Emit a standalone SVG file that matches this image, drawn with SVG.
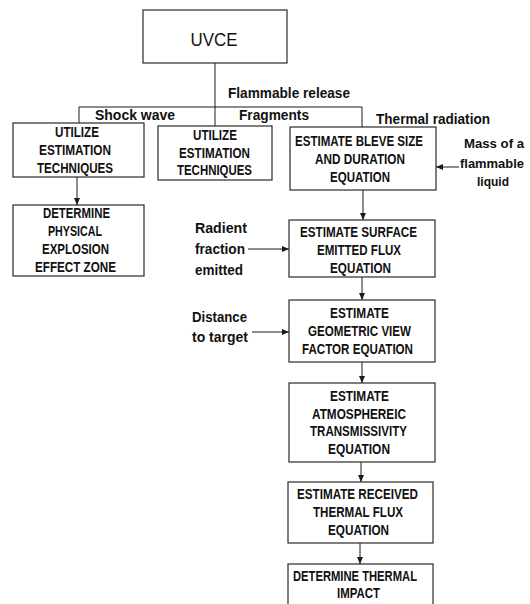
<svg xmlns="http://www.w3.org/2000/svg" width="530" height="604" viewBox="0 0 530 604">
<defs>
<marker id="ah" markerWidth="7" markerHeight="6" refX="7" refY="3" orient="auto" markerUnits="userSpaceOnUse">
<path d="M0,0 L7,3 L0,6 Z" fill="#1a1a1a"/>
</marker>
<style>
.box{fill:#fff;stroke:#2a2a2a;stroke-width:1.2}
.bt{font-family:"Liberation Sans",Arial,sans-serif;font-weight:bold;font-size:15px;fill:#111;text-anchor:middle}
.lb{font-family:"Liberation Sans",Arial,sans-serif;font-weight:bold;font-size:15px;fill:#111}
.sm{font-size:13.5px}
.c{stroke:#1a1a1a;stroke-width:1;fill:none}
.ca{stroke:#1a1a1a;stroke-width:1;fill:none;marker-end:url(#ah)}
</style>
</defs>
<rect width="530" height="604" fill="#fff"/>

<g id="connectors">
<line class="c" x1="215" y1="63" x2="215" y2="126"/>
<line class="c" x1="79" y1="107" x2="362" y2="107"/>
<line class="c" x1="79" y1="107" x2="79" y2="123"/>
<line class="c" x1="362" y1="107" x2="362" y2="127"/>
<line class="ca" x1="77" y1="177" x2="77" y2="205"/>
<line class="ca" x1="363" y1="190" x2="363" y2="220"/>
<line class="ca" x1="362" y1="277" x2="362" y2="300"/>
<line class="ca" x1="362" y1="362" x2="362" y2="383"/>
<line class="ca" x1="361" y1="462" x2="361" y2="482"/>
<line class="ca" x1="360" y1="543" x2="360" y2="564"/>
<line class="ca" x1="459" y1="167" x2="436" y2="167"/>
<line class="ca" x1="248" y1="249" x2="289" y2="249"/>
<line class="ca" x1="252" y1="332" x2="289" y2="332"/>
</g>

<g id="labels">
<text class="lb" x="228" y="98" textLength="122" lengthAdjust="spacingAndGlyphs">Flammable release</text>
<text class="lb" x="95" y="120" textLength="80" lengthAdjust="spacingAndGlyphs">Shock wave</text>
<text class="lb" x="239" y="120" textLength="70" lengthAdjust="spacingAndGlyphs">Fragments</text>
<text class="lb" x="376" y="124" textLength="114" lengthAdjust="spacingAndGlyphs">Thermal radiation</text>
<text class="lb sm" x="464" y="148" textLength="60" lengthAdjust="spacingAndGlyphs">Mass of a</text>
<text class="lb sm" x="460" y="168" textLength="64" lengthAdjust="spacingAndGlyphs">flammable</text>
<text class="lb sm" x="477" y="186" textLength="32" lengthAdjust="spacingAndGlyphs">liquid</text>
<text class="lb" x="195" y="233" textLength="52" lengthAdjust="spacingAndGlyphs">Radient</text>
<text class="lb" x="195" y="254" textLength="50" lengthAdjust="spacingAndGlyphs">fraction</text>
<text class="lb" x="195" y="275" textLength="48" lengthAdjust="spacingAndGlyphs">emitted</text>
<text class="lb" x="192" y="322" textLength="55" lengthAdjust="spacingAndGlyphs">Distance</text>
<text class="lb" x="192" y="342" textLength="56" lengthAdjust="spacingAndGlyphs">to target</text>
</g>

<g id="uvce">
<rect class="box" x="143" y="10" width="144" height="53"/>
<text x="214" y="46" font-family="Liberation Sans, Arial, sans-serif" font-size="18" fill="#111" text-anchor="middle" textLength="47" lengthAdjust="spacingAndGlyphs">UVCE</text>
</g>

<g id="utilize-left">
<rect class="box" x="13" y="123" width="131" height="54"/>
<text class="bt" x="77" y="137" textLength="44" lengthAdjust="spacingAndGlyphs">UTILIZE</text>
<text class="bt" x="75" y="155" textLength="72" lengthAdjust="spacingAndGlyphs">ESTIMATION</text>
<text class="bt" x="75" y="173" textLength="76" lengthAdjust="spacingAndGlyphs">TECHNIQUES</text>
</g>

<g id="utilize-middle">
<rect class="box" x="158" y="126" width="114" height="54"/>
<text class="bt" x="215" y="140" textLength="44" lengthAdjust="spacingAndGlyphs">UTILIZE</text>
<text class="bt" x="214.5" y="158" textLength="71" lengthAdjust="spacingAndGlyphs">ESTIMATION</text>
<text class="bt" x="214.5" y="175" textLength="75" lengthAdjust="spacingAndGlyphs">TECHNIQUES</text>
</g>

<g id="bleve">
<rect class="box" x="290" y="127" width="146" height="63"/>
<text class="bt" x="359" y="146" textLength="128" lengthAdjust="spacingAndGlyphs">ESTIMATE BLEVE SIZE</text>
<text class="bt" x="360" y="164" textLength="90" lengthAdjust="spacingAndGlyphs">AND DURATION</text>
<text class="bt" x="360" y="182" textLength="60" lengthAdjust="spacingAndGlyphs">EQUATION</text>
</g>

<g id="physical">
<rect class="box" x="13" y="205" width="131" height="71"/>
<text class="bt" x="76.5" y="218" textLength="67" lengthAdjust="spacingAndGlyphs">DETERMINE</text>
<text class="bt" x="75" y="236" textLength="54" lengthAdjust="spacingAndGlyphs">PHYSICAL</text>
<text class="bt" x="75.5" y="254" textLength="67" lengthAdjust="spacingAndGlyphs">EXPLOSION</text>
<text class="bt" x="75.5" y="272" textLength="81" lengthAdjust="spacingAndGlyphs">EFFECT ZONE</text>
</g>

<g id="surface">
<rect class="box" x="289" y="220" width="146" height="57"/>
<text class="bt" x="358.5" y="237" textLength="117" lengthAdjust="spacingAndGlyphs">ESTIMATE SURFACE</text>
<text class="bt" x="359" y="255" textLength="84" lengthAdjust="spacingAndGlyphs">EMITTED FLUX</text>
<text class="bt" x="360.5" y="273" textLength="61" lengthAdjust="spacingAndGlyphs">EQUATION</text>
</g>

<g id="geometric">
<rect class="box" x="289" y="300" width="146" height="62"/>
<text class="bt" x="359.5" y="318" textLength="59" lengthAdjust="spacingAndGlyphs">ESTIMATE</text>
<text class="bt" x="359.5" y="336" textLength="103" lengthAdjust="spacingAndGlyphs">GEOMETRIC VIEW</text>
<text class="bt" x="357.5" y="354" textLength="111" lengthAdjust="spacingAndGlyphs">FACTOR EQUATION</text>
</g>

<g id="atmospheric">
<rect class="box" x="289" y="383" width="146" height="79"/>
<text class="bt" x="359.5" y="401" textLength="59" lengthAdjust="spacingAndGlyphs">ESTIMATE</text>
<text class="bt" x="359" y="419" textLength="94" lengthAdjust="spacingAndGlyphs">ATMOSPHEREIC</text>
<text class="bt" x="358.5" y="436" textLength="97" lengthAdjust="spacingAndGlyphs">TRANSMISSIVITY</text>
<text class="bt" x="359" y="454" textLength="62" lengthAdjust="spacingAndGlyphs">EQUATION</text>
</g>

<g id="received">
<rect class="box" x="288" y="482" width="145" height="61"/>
<text class="bt" x="357.5" y="499" textLength="121" lengthAdjust="spacingAndGlyphs">ESTIMATE RECEIVED</text>
<text class="bt" x="358" y="517" textLength="90" lengthAdjust="spacingAndGlyphs">THERMAL FLUX</text>
<text class="bt" x="358.5" y="535" textLength="61" lengthAdjust="spacingAndGlyphs">EQUATION</text>
</g>

<g id="impact">
<rect class="box" x="288" y="564" width="145" height="50"/>
<text class="bt" x="355" y="581" textLength="124" lengthAdjust="spacingAndGlyphs">DETERMINE THERMAL</text>
<text class="bt" x="358.5" y="598" textLength="43" lengthAdjust="spacingAndGlyphs">IMPACT</text>
</g>
</svg>
